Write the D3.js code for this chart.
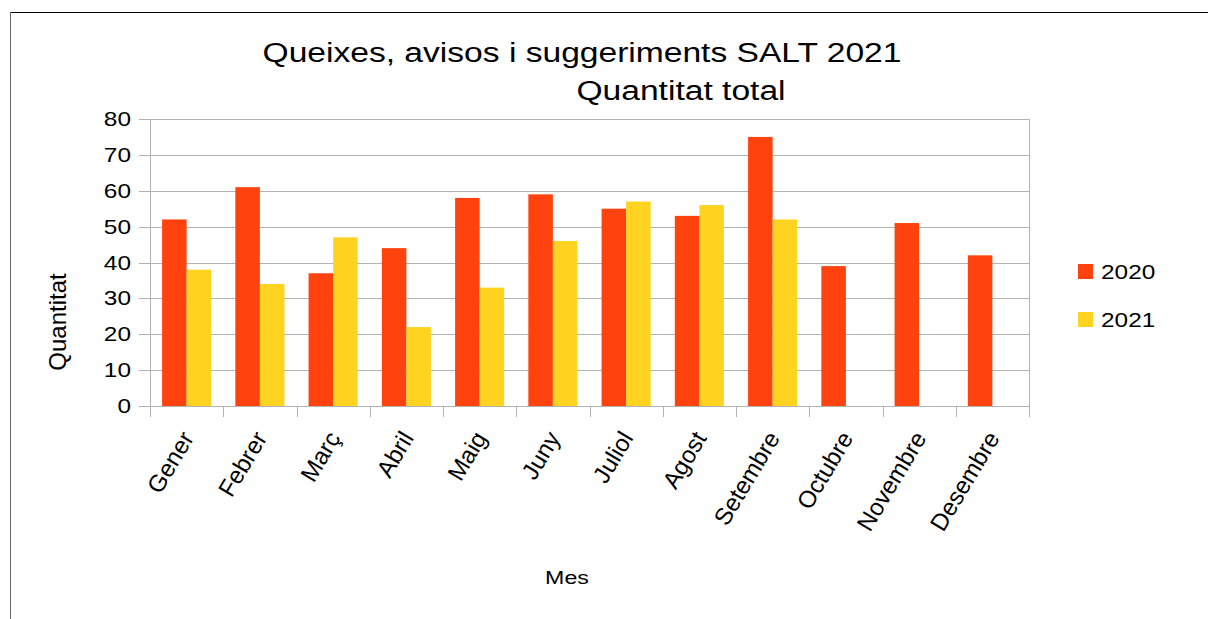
<!DOCTYPE html>
<html>
<head>
<meta charset="utf-8">
<script src="https://cdn.jsdelivr.net/npm/d3@7.9.0/dist/d3.min.js"></script>
<style>
  html, body { margin: 0; padding: 0; background: #fff; }
  svg { display: block; font-family: "Liberation Sans", Arial, sans-serif; }
</style>
</head>
<body>
<svg id="chart" width="1208" height="619"></svg>
<script>
// Data
const months = ['Gener', 'Febrer', 'Març', 'Abril', 'Maig', 'Juny', 'Juliol',
  'Agost', 'Setembre', 'Octubre', 'Novembre', 'Desembre'];
const series = ['2020', '2021'];
const values2020 = [52, 61, 37, 44, 58, 59, 55, 53, 75, 39, 51, 42];
const values2021 = [38, 34, 47, 22, 33, 46, 57, 56, 52, null, null, null];
const yTicks = [0, 10, 20, 30, 40, 50, 60, 70, 80];
const colors = ['#ff420e', '#ffd320'];

const svg = d3.select('#chart');
const W = 1208, H = 619;
const sx = 1.22; // the reference text is a bit wider than plain Liberation Sans

// ─── Frame ──────────────────────────────────────────────────────────────────
svg.append('line').attr('x1', 10).attr('x2', W).attr('y1', 12.5).attr('y2', 12.5)
  .attr('stroke', '#000').attr('stroke-width', 1);
svg.append('line').attr('x1', 10.5).attr('x2', 10.5).attr('y1', 12).attr('y2', H)
  .attr('stroke', '#666').attr('stroke-width', 1);

// ─── Scales ─────────────────────────────────────────────────────────────────
const plot = { left: 150, right: 1029, top: 119, bottom: 406 };

const x = d3.scaleBand().domain(months).range([plot.left, plot.right]);
const y = d3.scaleLinear().domain([0, 80]).range([plot.bottom, plot.top]);
const barW = x.bandwidth() * 0.335;

// gridlines
svg.append('g').selectAll('line').data(yTicks).join('line')
  .attr('x1', plot.left - 11).attr('x2', plot.right)
  .attr('y1', d => Math.round(y(d)) + 0.5).attr('y2', d => Math.round(y(d)) + 0.5)
  .attr('stroke', '#b3b3b3').attr('stroke-width', 1);

// vertical frame lines of the plot area
[plot.left, plot.right].forEach(px => {
  svg.append('line').attr('x1', px + 0.5).attr('x2', px + 0.5)
    .attr('y1', plot.top).attr('y2', plot.bottom + 11)
    .attr('stroke', '#b3b3b3');
});

// category ticks under the axis
svg.append('g').selectAll('line').data(months.slice(1)).join('line')
  .attr('x1', d => Math.round(x(d)) + 0.5).attr('x2', d => Math.round(x(d)) + 0.5)
  .attr('y1', plot.bottom).attr('y2', plot.bottom + 11)
  .attr('stroke', '#b3b3b3');

// ─── Bars ───────────────────────────────────────────────────────────────────
const allSeries = [values2020, values2021];
allSeries.forEach((vals, si) => {
  svg.append('g').selectAll('rect')
    .data(months.map((m, i) => ({ m, v: vals[i] })).filter(d => d.v != null))
    .join('rect')
    .attr('x', d => x(d.m) + x.bandwidth() / 2 - barW + si * barW)
    .attr('y', d => y(d.v))
    .attr('width', barW)
    .attr('height', d => y(0) - y(d.v))
    .attr('fill', colors[si]);
});

// ─── Y tick labels ──────────────────────────────────────────────────────────
svg.append('g').selectAll('text').data(yTicks).join('text')
  .attr('transform', d => `translate(131,${y(d) + 7}) scale(${sx},1)`)
  .attr('text-anchor', 'end')
  .attr('font-size', 20)
  .attr('fill', '#000')
  .text(d => d);

// ─── X tick labels (rotated) ───────────────────────────────────────────────
svg.append('g').selectAll('text').data(months).join('text')
  .attr('transform', d => `translate(${x(d) + x.bandwidth() / 2 + 8},${plot.bottom + 32}) rotate(-59)`)
  .attr('text-anchor', 'end')
  .attr('font-size', 24)
  .attr('fill', '#000')
  .text(d => d);

// ─── Titles ─────────────────────────────────────────────────────────────────
svg.append('text')
  .attr('transform', `translate(582,62) scale(1.2,1)`)
  .attr('text-anchor', 'middle').attr('font-size', 28)
  .text('Queixes, avisos i suggeriments SALT 2021');
svg.append('text')
  .attr('transform', `translate(681,100) scale(1.2,1)`)
  .attr('text-anchor', 'middle').attr('font-size', 28)
  .text('Quantitat total');

svg.append('text')
  .attr('transform', `translate(567,584) scale(${sx},1)`)
  .attr('text-anchor', 'middle').attr('font-size', 19)
  .text('Mes');

svg.append('text')
  .attr('transform', `translate(66,322) rotate(-90)`)
  .attr('text-anchor', 'middle').attr('font-size', 24)
  .text('Quantitat');

// ─── Legend ─────────────────────────────────────────────────────────────────
const legend = svg.append('g').selectAll('g').data(series).join('g')
  .attr('transform', (d, i) => `translate(1078,${264 + i * 48})`);
legend.append('rect').attr('width', 15).attr('height', 15)
  .attr('fill', (d, i) => colors[i]);
legend.append('text')
  .attr('transform', `translate(23,15) scale(${sx},1)`)
  .attr('font-size', 20)
  .text(d => d);
</script>
</body>
</html>
